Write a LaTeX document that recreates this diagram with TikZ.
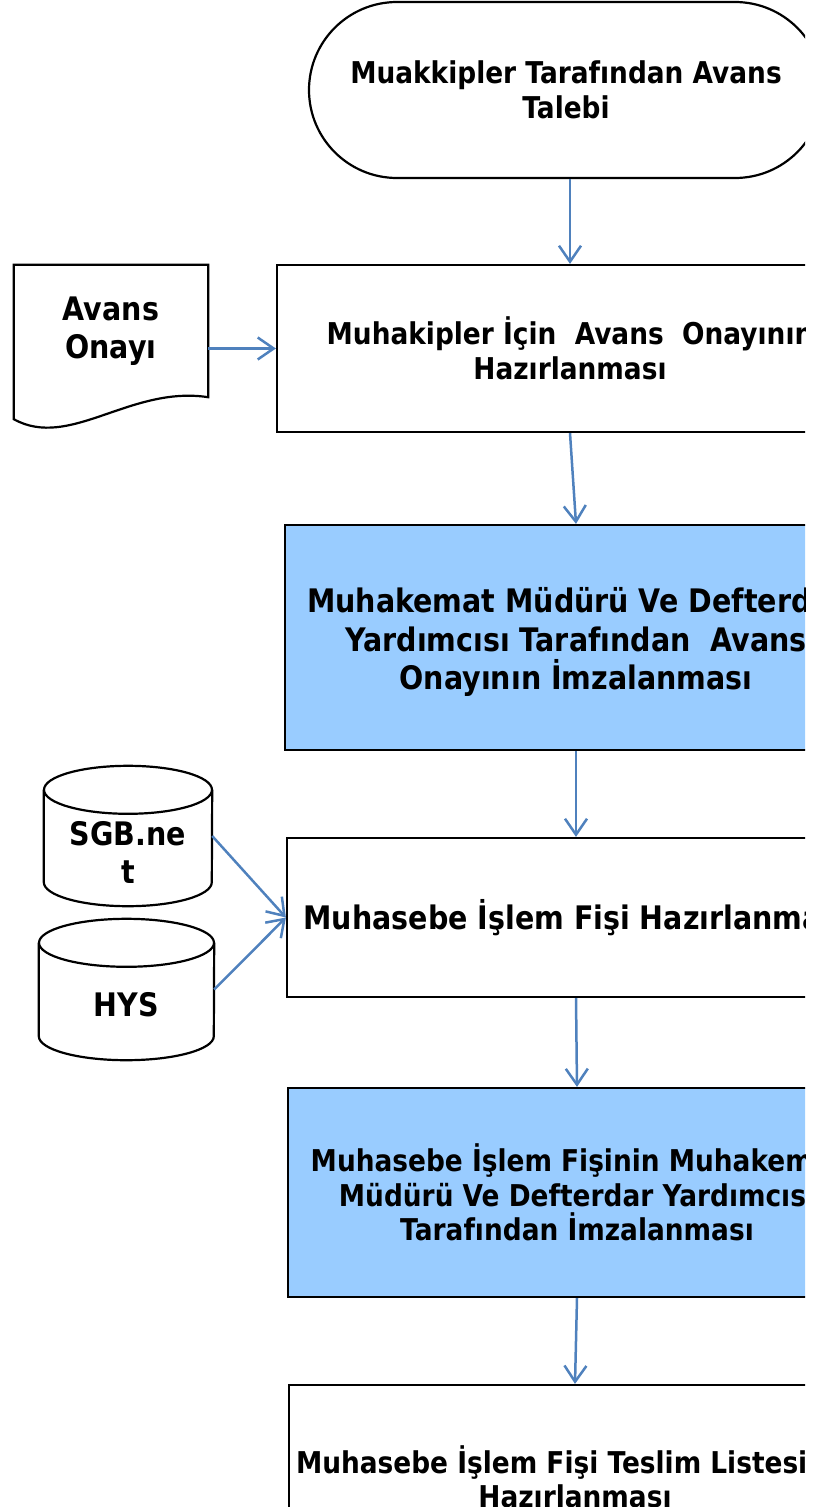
\documentclass[tikz,border=0pt]{standalone}
\usepackage{fontspec}
\setmainfont{DejaVu Sans}[FakeStretch=0.88]
\usetikzlibrary{arrows.meta,shapes.misc}
\definecolor{flowblue}{HTML}{4F81BD}
\definecolor{signfill}{HTML}{99CCFF}
\newcommand{\txtsmall}{\bfseries\fontsize{30}{34.5}\selectfont}
\newcommand{\txtlarge}{\bfseries\fontsize{32.4}{38.5}\selectfont}

\begin{document}
\begin{tikzpicture}[x=1pt, y=-1pt,
  box/.style={draw, line width=2.2pt, rectangle, align=center, inner sep=0pt},
  dbase/.style={rectangle, align=center, inner sep=0pt, font=\txtlarge},
  outline/.style={line width=2.2pt},
  flow/.style={draw=flowblue, line width=2.5pt, -{Straight Barb[length=16pt, width=22pt]}}]
\useasboundingbox (0,0) rectangle (830,1507);
\clip (0,0) rectangle (805,1507);

% Start of the process
\node[box, rounded rectangle, minimum width=514pt, minimum height=176pt, font=\txtsmall] (term) at (566,90)
  {Muakkipler Tarafından Avans\\Talebi};

% Process steps
\node[box, minimum width=586pt, minimum height=167pt, font=\txtsmall] (prep) at (570,348.5)
  {Muhakipler İçin~ Avans~ Onayının\\Hazırlanması};
\node[box, fill=signfill, minimum width=582pt, minimum height=225pt, font=\txtlarge] (imza1) at (576,637.5)
  {\rule{0pt}{34pt}Muhakemat Müdürü Ve Defterdar\\Yardımcısı Tarafından~ Avans\\Onayının İmzalanması};
\node[box, minimum width=578pt, minimum height=159pt, font=\txtlarge] (fis) at (576,917.5)
  {Muhasebe İşlem Fişi Hazırlanması};
\node[box, fill=signfill, minimum width=578pt, minimum height=209pt, font=\txtsmall] (imza2) at (577,1192.5)
  {Muhasebe İşlem Fişinin Muhakemat\\Müdürü Ve Defterdar Yardımcısı\\Tarafından İmzalanması};
\node[box, minimum width=572pt, minimum height=184pt, font=\txtsmall] (teslim) at (575,1477)
  {Muhasebe İşlem Fişi Teslim Listesinin\\Hazırlanması};

% Document
\node[inner sep=0pt, minimum width=194pt, minimum height=132pt, align=center, font=\txtlarge] (doc) at (111,331)
  {Avans\\Onayı};
\draw[outline] ([yshift=-22pt]doc.south west) -- (doc.north west) -- (doc.north east) -- (doc.south east)
  .. controls +(-78,-12) and +(56,31) .. ([yshift=-22pt]doc.south west) -- cycle;

% Data sources
\node[dbase, minimum width=168pt, minimum height=140pt] (sgb) at (128,836) {\rule{0pt}{57pt}SGB.ne\\t};
\draw[outline] ([yshift=-24pt]sgb.north west) -- ([yshift=24pt]sgb.south west)
  arc (180:360:84pt and 24pt) -- ([yshift=-24pt]sgb.north east);
\draw[outline] ([yshift=-24pt]sgb.north) ellipse (84pt and 24pt);
\node[dbase, minimum width=175pt, minimum height=141pt] (hys) at (126.5,989.5) {\rule{0pt}{54pt}HYS};
\draw[outline] ([yshift=-24pt]hys.north west) -- ([yshift=24pt]hys.south west)
  arc (180:360:87.5pt and 24pt) -- ([yshift=-24pt]hys.north east);
\draw[outline] ([yshift=-24pt]hys.north) ellipse (87.5pt and 24pt);

% Connectors
\draw[flow] (term.south -| prep.north) -- (prep.north);
\draw[flow] (doc.east |- prep.west) -- (prep.west);
\draw[flow] (prep.south) -- (imza1.north);
\draw[flow] (imza1.south) -- (fis.north);
\draw[flow] (sgb.east) -- (fis.west);
\draw[flow] (hys.east) -- (fis.west);
\draw[flow] (fis.south) -- (imza2.north);
\draw[flow] (imza2.south) -- (teslim.north);
\end{tikzpicture}
\end{document}
